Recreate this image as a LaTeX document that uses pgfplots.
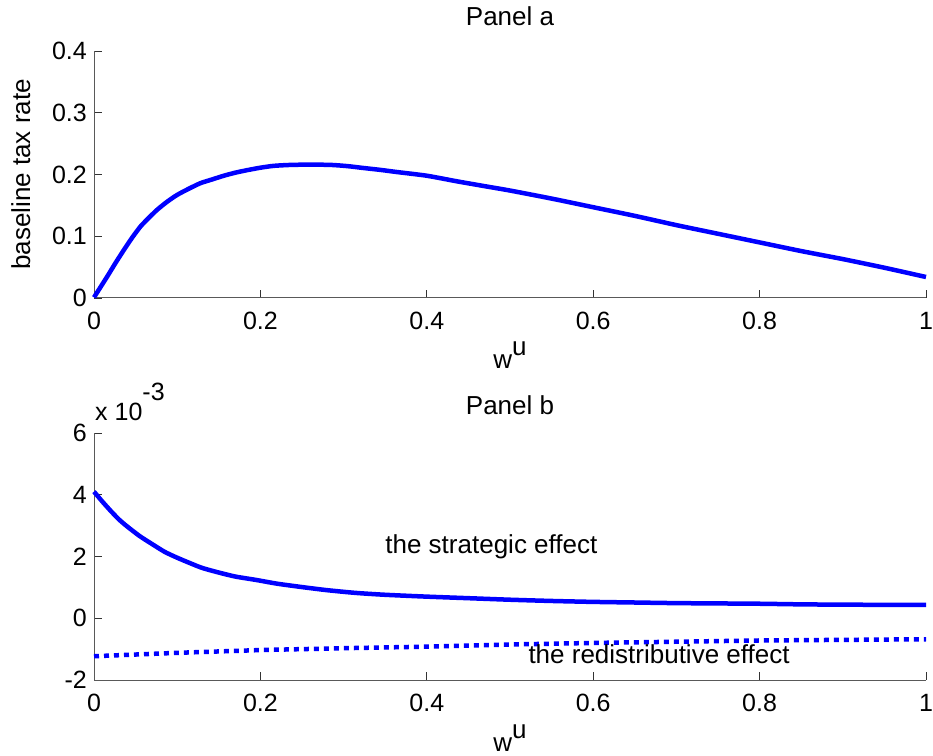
\documentclass[border=0pt]{standalone}
\usepackage{fontspec}
\setmainfont{Liberation Sans}
\usepackage{pgfplots}
\pgfplotsset{compat=1.18}
\definecolor{mblue}{RGB}{0,0,255}
\pgfplotsset{
  mstyle/.style={
    scale only axis, width=832pt, height=247pt,
    axis lines=left, axis line style={-, draw=black!65, line width=1pt},
    tick align=inside, major tick length=8pt,
    every tick/.style={black!80, line width=0.9pt},
    xmin=0, xmax=1,
    xtick={0,0.2,0.4,0.6,0.8,1},
    xticklabels={0,0.2,0.4,0.6,0.8,1},
    tick label style={font=\fontsize{25}{29}\selectfont},
    xticklabel style={inner sep=0pt, anchor=north, yshift=-14pt},
    yticklabel style={inner sep=0pt, anchor=east, xshift=-7pt},
    label style={font=\fontsize{26}{31}\selectfont},
    title style={font=\fontsize{26}{31}\selectfont},
    xlabel={w\raisebox{13pt}{u}},
    xlabel style={at={(axis description cs:0.5,0)}, anchor=base, yshift=-71pt, inner sep=0pt},
    clip=false,
  }
}
\begin{document}
\begin{tikzpicture}
\path[use as bounding box] (0pt,0pt) rectangle (933pt,755pt);
\begin{axis}[mstyle, at={(94pt,457pt)}, anchor=south west,
  ymin=0, ymax=0.4, ytick={0,0.1,0.2,0.3,0.4},
  yticklabels={0,0.1,0.2,0.3,0.4},
  ylabel={baseline tax rate},
  ylabel style={at={(axis description cs:-0.0769,0.5)}, anchor=base, rotate=0, inner sep=0pt},
  title={Panel a},
  title style={at={(axis description cs:0.5,1)}, anchor=base, yshift=19pt, inner sep=0pt},
]
\addplot[mblue, line width=4.5pt, line join=round, smooth, tension=0.4] coordinates {
(0,0.001) (0.008,0.018) (0.016,0.035) (0.026,0.057) (0.036,0.078) (0.046,0.098)
(0.056,0.116) (0.066,0.130) (0.076,0.143) (0.088,0.156) (0.100,0.167) (0.114,0.177)
(0.128,0.186) (0.142,0.192) (0.156,0.198) (0.170,0.203) (0.184,0.207) (0.200,0.211)
(0.216,0.214) (0.236,0.2155) (0.260,0.216) (0.285,0.2155) (0.305,0.2135) (0.324,0.2105)
(0.344,0.2075) (0.364,0.204) (0.400,0.198) (0.436,0.189) (0.470,0.181) (0.500,0.174)
(0.550,0.161) (0.600,0.147) (0.650,0.133) (0.700,0.118) (0.750,0.104) (0.800,0.090)
(0.850,0.076) (0.900,0.063) (0.950,0.049) (1.000,0.034)
};
\end{axis}
\begin{axis}[mstyle, at={(94pt,75pt)}, anchor=south west,
  ymin=-2, ymax=6, ytick={-2,0,2,4,6},
  yticklabels={-2,0,2,4,6},
  title={Panel b},
  title style={at={(axis description cs:0.5,1)}, anchor=base, yshift=13pt, inner sep=0pt},
]
\addplot[mblue, line width=4.5pt, line join=round, smooth, tension=0.4] coordinates {
(0.000,4.10) (0.010,3.78) (0.020,3.48) (0.030,3.20) (0.040,2.97) (0.055,2.66)
(0.070,2.40) (0.085,2.15) (0.100,1.96) (0.115,1.79) (0.130,1.63) (0.150,1.48)
(0.170,1.35) (0.195,1.24) (0.220,1.12) (0.250,1.01) (0.280,0.91) (0.315,0.82)
(0.350,0.76) (0.400,0.70) (0.450,0.65) (0.500,0.60) (0.550,0.56) (0.600,0.53)
(0.650,0.51) (0.700,0.49) (0.750,0.48) (0.800,0.47) (0.850,0.45) (0.900,0.44)
(0.950,0.435) (1.000,0.43)
};
\addplot[mblue, line width=4.5pt, dash pattern=on 5pt off 5pt] coordinates {
(0,-1.23) (0.1,-1.12) (0.2,-1.03) (0.3,-0.97) (0.4,-0.92) (0.5,-0.85)
(0.6,-0.80) (0.7,-0.76) (0.8,-0.72) (0.9,-0.70) (1.0,-0.68)
};
\node[anchor=base west, inner sep=0pt, font=\fontsize{26}{31}\selectfont] at (axis cs:0.35,2.11) {the strategic effect};
\node[anchor=base west, inner sep=0pt, font=\fontsize{26}{31}\selectfont] at (axis cs:0.522,-1.456) {the redistributive effect};
\node[anchor=base west, inner sep=0pt, font=\fontsize{25}{29}\selectfont] at (rel axis cs:0,1) [xshift=1pt, yshift=13pt] {x 10\raisebox{20pt}{-3}};
\end{axis}
\end{tikzpicture}
\end{document}
